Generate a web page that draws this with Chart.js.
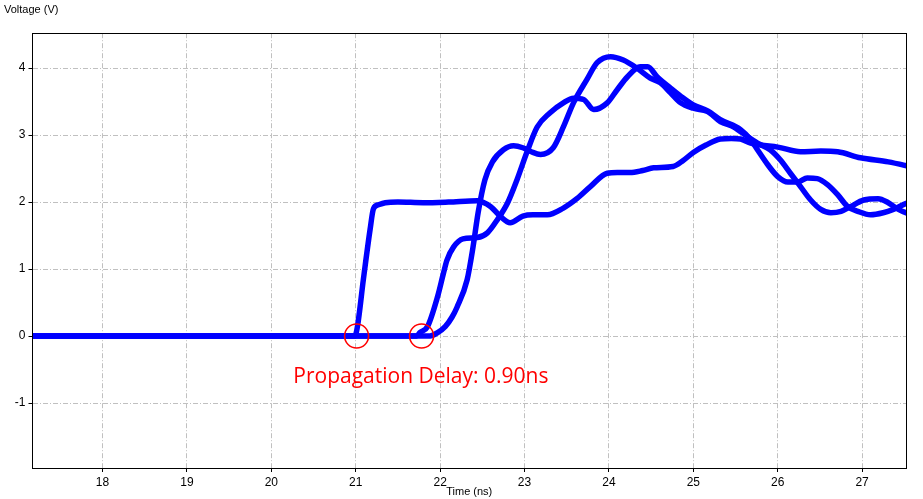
<!DOCTYPE html>
<html>
<head>
<meta charset="utf-8">
<title>Propagation Delay</title>
<script src="https://cdn.jsdelivr.net/npm/chart.js@4.4.0/dist/chart.umd.min.js"></script>
<style>
  html, body { margin: 0; padding: 0; background: #fff; }
  #wrap { width: 923px; height: 499px; position: relative; }
</style>
</head>
<body>
<div id="wrap"><canvas id="chart"></canvas></div>
<script>
// ===== AXES =====
const xTickVals = [18, 19, 20, 21, 22, 23, 24, 25, 26, 27];
const yTickVals = [-1, 0, 1, 2, 3, 4];
const xMin = 17.17, xMax = 27.52;
const yMin = -1.97, yMax = 4.52;

// ===== WAVEFORMS (time in ns, voltage in V) =====
// trace 1 - switches first, plateau at 2 V
const wave1T = [17.0, 20.99, 21.02, 21.09, 21.17, 21.21, 21.27, 21.35, 21.5, 21.8, 22.1, 22.44, 22.6, 22.71, 22.83, 22.98,
  23.1, 23.27, 23.46, 23.62, 23.78, 23.98, 24.1, 24.25, 24.4, 24.53, 24.76, 24.88, 25.0, 25.15, 25.32, 25.45, 25.56,
  25.68, 25.8, 26.0, 26.27, 26.51, 26.71, 26.98, 27.31, 27.6];
const wave1V = [0, 0, 0.14, 0.84, 1.59, 1.9, 1.96, 1.99, 2.0, 1.99, 2.0, 2.02, 1.93, 1.79, 1.69, 1.79,
  1.81, 1.81, 1.91, 2.05, 2.23, 2.43, 2.44, 2.44, 2.47, 2.51, 2.53, 2.62, 2.74, 2.85, 2.94, 2.95, 2.94,
  2.88, 2.85, 2.82, 2.75, 2.76, 2.75, 2.66, 2.6, 2.52];

// trace 2 - shoulder at ~1.45 V
const wave2T = [17.0, 21.72, 21.76, 21.85, 21.97, 22.04, 22.08, 22.16, 22.27, 22.44, 22.56, 22.68, 22.8, 22.91, 23.03,
  23.15, 23.3, 23.46, 23.58, 23.7, 23.82, 23.98, 24.1, 24.22, 24.37, 24.46, 24.57, 24.73, 24.85, 25.0, 25.17, 25.32,
  25.56, 25.68, 25.76, 25.88, 26.0, 26.12, 26.24, 26.35, 26.47, 26.59, 26.71, 26.83, 26.95, 27.1, 27.25, 27.37, 27.54, 27.6];
const wave2V = [0, 0, 0.05, 0.14, 0.59, 0.94, 1.13, 1.33, 1.45, 1.47, 1.54, 1.74, 1.99, 2.33, 2.75,
  3.12, 3.33, 3.48, 3.55, 3.53, 3.38, 3.48, 3.68, 3.87, 4.02, 4.02, 3.87, 3.7, 3.58, 3.45, 3.36, 3.23,
  3.08, 2.93, 2.78, 2.56, 2.38, 2.3, 2.3, 2.36, 2.35, 2.26, 2.11, 1.93, 1.86, 1.81, 1.84, 1.89, 1.99, 2.01];

// trace 3 - steep edge, peak ~4.17 V
const wave3T = [17.0, 21.88, 21.97, 22.06, 22.14, 22.2, 22.32, 22.39, 22.45, 22.53, 22.62, 22.75, 22.87, 22.98, 23.08,
  23.19, 23.34, 23.46, 23.58, 23.74, 23.86, 24.02, 24.17, 24.33, 24.49, 24.61, 24.73, 24.85, 25.0, 25.17, 25.32,
  25.48, 25.56, 25.76, 25.91, 26.03, 26.15, 26.27, 26.39, 26.51, 26.63, 26.75, 26.86, 27.02, 27.19, 27.31, 27.43, 27.54, 27.6];
const wave3V = [0, 0, 0.05, 0.14, 0.28, 0.43, 0.84, 1.33, 1.84, 2.33, 2.6, 2.78, 2.84, 2.81, 2.75,
  2.71, 2.81, 3.12, 3.48, 3.83, 4.08, 4.17, 4.12, 4.0, 3.85, 3.78, 3.63, 3.48, 3.4, 3.35, 3.2,
  3.12, 3.05, 2.88, 2.78, 2.63, 2.43, 2.23, 2.03, 1.89, 1.84, 1.86, 1.93, 2.03, 2.05, 1.99, 1.89, 1.83, 1.81];

// ===== ANNOTATION =====
const delayMarkT = [21.01, 21.78];   // edges circled on the 0 V line
const delayText = "Propagation Delay: 0.90ns";
const delayTextT = 20.26, delayTextV = -0.70;

function toPoints(ts, vs) { return ts.map((t, i) => ({ x: t, y: vs[i] })); }

const LINE_BLUE = "#0000ff";
const tickFont = { family: "Liberation Sans", size: 12 };
const titleFont = { family: "Liberation Sans", size: 11, weight: "normal" };

const gridOpts = { color: "#c0c0c0", lineWidth: 1, drawTicks: true, tickLength: 4, tickColor: "#000", tickWidth: 1, tickBorderDash: [] };
const borderOpts = { display: true, color: "#000", width: 1, dash: [5, 2, 1, 2] };

// red circles + label, then the black plot frame
const overlayPlugin = {
  id: "overlay",
  afterDraw(chart) {
    const { ctx, chartArea: a, scales } = chart;
    ctx.save();
    ctx.strokeStyle = "#ff0000";
    ctx.lineWidth = 1.5;
    delayMarkT.forEach(t => {
      ctx.beginPath();
      ctx.arc(scales.x.getPixelForValue(t), scales.y.getPixelForValue(0), 12, 0, Math.PI * 2);
      ctx.stroke();
    });
    ctx.fillStyle = "#ff0000";
    ctx.font = '21px "Open Sans"';
    ctx.textAlign = "left";
    ctx.textBaseline = "alphabetic";
    ctx.fillText(delayText, scales.x.getPixelForValue(delayTextT), scales.y.getPixelForValue(delayTextV));

    ctx.strokeStyle = "#000";
    ctx.lineWidth = 1;
    const l = Math.floor(a.left) + 0.5, t = Math.floor(a.top) + 0.5;
    const r = Math.floor(a.right) + 0.5, b = Math.floor(a.bottom) + 0.5;
    ctx.strokeRect(l, t, r - l, b - t);
    ctx.restore();
  }
};

const lineStyle = {
  borderColor: LINE_BLUE, borderWidth: 5.5, pointRadius: 0, fill: false,
  cubicInterpolationMode: "monotone", borderJoinStyle: "round", borderCapStyle: "round"
};

new Chart(document.getElementById("chart"), {
  type: "line",
  data: {
    datasets: [
      { label: "trace 1", data: toPoints(wave1T, wave1V), ...lineStyle },
      { label: "trace 2", data: toPoints(wave2T, wave2V), ...lineStyle },
      { label: "trace 3", data: toPoints(wave3T, wave3V), ...lineStyle }
    ]
  },
  options: {
    responsive: true,
    maintainAspectRatio: false,
    animation: false,
    layout: { padding: { left: 4, right: 17, top: 0, bottom: 0 } },
    plugins: {
      legend: { display: false },
      tooltip: { enabled: false },
      title: {
        display: true, text: "Voltage (V)", align: "start", color: "#000",
        font: titleFont, padding: { top: 3, bottom: 17 }
      }
    },
    scales: {
      x: {
        type: "linear", min: xMin, max: xMax,
        afterBuildTicks: s => { s.ticks = xTickVals.map(v => ({ value: v })); },
        afterFit: s => { s.height = 31; },
        ticks: { font: tickFont, color: "#000", padding: 3, maxRotation: 0 },
        title: { display: true, text: "Time (ns)", color: "#000", font: titleFont, padding: { top: 0, bottom: 0 } },
        grid: gridOpts,
        border: borderOpts
      },
      y: {
        type: "linear", min: yMin, max: yMax,
        afterBuildTicks: s => { s.ticks = yTickVals.map(v => ({ value: v })); },
        afterFit: s => { s.width = 28.5; },
        ticks: { font: tickFont, color: "#000", padding: 3 },
        grid: gridOpts,
        border: borderOpts
      }
    }
  },
  plugins: [overlayPlugin]
});
</script>
</body>
</html>
